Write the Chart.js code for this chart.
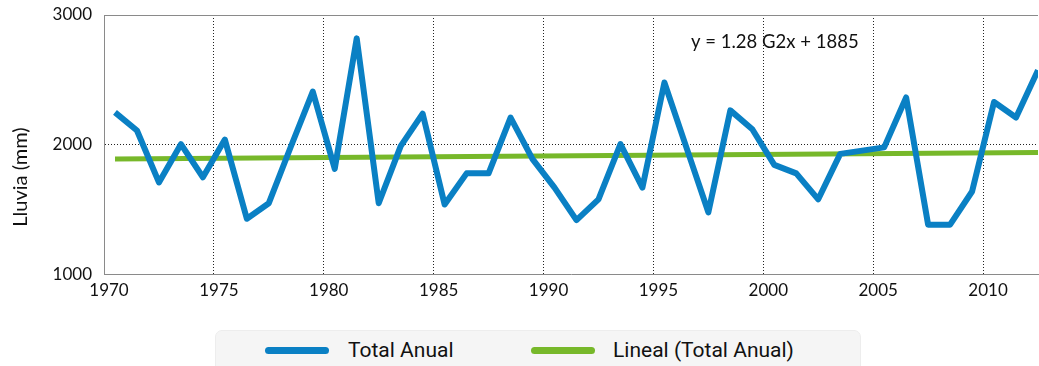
<!DOCTYPE html>
<html>
<head>
<meta charset="utf-8">
<script src="https://cdn.jsdelivr.net/npm/chart.js@4/dist/chart.umd.min.js"></script>
<style>
  html, body { margin: 0; padding: 0; background: #fff; overflow: hidden; }
  #wrap { position: relative; width: 1039px; height: 366px; }
  #legend {
    position: absolute; left: 215px; top: 330px; width: 646px; height: 50px;
    background: #f5f5f5; border: 1px solid #ededed; border-radius: 7px; box-sizing: border-box;
    font-family: Roboto, "Open Sans", sans-serif; font-size: 21px; color: #111;
  }
  .item { position: absolute; top: 5px; height: 28px; line-height: 28px; white-space: nowrap; }
  .swatch { position: absolute; width: 64px; height: 7px; border-radius: 4px; }
</style>
</head>
<body>
<div id="wrap">
  <canvas id="chart" width="1039" height="366"></canvas>
  <div id="legend"></div>
</div>
<script>
// Data
const years = [1970, 1971, 1972, 1973, 1974, 1975, 1976, 1977, 1978, 1979,
               1980, 1981, 1982, 1983, 1984, 1985, 1986, 1987, 1988, 1989,
               1990, 1991, 1992, 1993, 1994, 1995, 1996, 1997, 1998, 1999,
               2000, 2001, 2002, 2003, 2004, 2005, 2006, 2007, 2008, 2009,
               2010, 2011, 2012];
const rainfall = [2250, 2110, 1710, 2005, 1750, 2040, 1430, 1550, 1985, 2410,
                  1815, 2820, 1550, 1990, 2240, 1540, 1780, 1780, 2210, 1890,
                  1670, 1420, 1580, 2005, 1670, 2480, 1980, 1480, 2265, 2120,
                  1845, 1780, 1580, 1930, 1955, 1980, 2365, 1385, 1385, 1640,
                  2330, 2210, 2575];
const trendYears = [1970, 2012];
const trendValues = [1890, 1940];
const xTicks = [1970, 1975, 1980, 1985, 1990, 1995, 2000, 2005, 2010];
const yTicks = [1000, 2000, 3000];
const equation = 'y = 1.28 G2x + 1885';

const blue = '#0a80c4';
const green = '#77b82a';
const tickFont = { family: 'Lato', size: 17 };

// points sit in the middle of each year
const toPoints = (xs, ys) => xs.map((yr, i) => ({ x: yr + 0.5, y: ys[i] }));

// Extra drawing: plot top border, y title, trend equation
const extras = {
  id: 'extras',
  beforeDatasetsDraw(chart) {
    const { ctx, chartArea } = chart;
    ctx.save();
    ctx.strokeStyle = '#8a8a8a';
    ctx.lineWidth = 1;
    ctx.beginPath();
    ctx.moveTo(chartArea.left, chartArea.top + 0.5);
    ctx.lineTo(chartArea.right, chartArea.top + 0.5);
    ctx.stroke();
    ctx.restore();
  },
  afterDraw(chart) {
    const { ctx, chartArea } = chart;
    ctx.save();
    ctx.fillStyle = '#111';
    ctx.font = '20px Lato';
    ctx.textAlign = 'center';
    ctx.textBaseline = 'middle';
    ctx.translate(21, 177);
    ctx.rotate(-Math.PI / 2);
    ctx.fillText('Lluvia (mm)', 0, 0);
    ctx.restore();

    ctx.save();
    ctx.fillStyle = '#111';
    ctx.font = '18.5px Lato';
    ctx.textAlign = 'left';
    ctx.textBaseline = 'middle';
    ctx.fillText(equation, chartArea.left + 587, 42);
    ctx.restore();
  }
};

const chart = new Chart(document.getElementById('chart'), {
  type: 'line',
  data: {
    datasets: [
      {
        label: 'Total Anual',
        data: toPoints(years, rainfall),
        borderColor: blue,
        borderWidth: 6,
        borderJoinStyle: 'round',
        pointRadius: 0,
        tension: 0,
        order: 1
      },
      {
        label: 'Lineal (Total Anual)',
        data: toPoints(trendYears, trendValues),
        borderColor: green,
        borderWidth: 5,
        pointRadius: 0,
        tension: 0,
        order: 2
      }
    ]
  },
  options: {
    responsive: false,
    animation: false,
    layout: { padding: { top: 15, right: 1, bottom: 59, left: 0 } },
    plugins: { legend: { display: false }, tooltip: { enabled: false } },
    scales: {
      x: {
        type: 'linear',
        min: 1970,
        max: 2012.5,
        afterBuildTicks: (scale) => {
          scale.ticks = xTicks.map(v => ({ value: v }));
        },
        ticks: { color: '#111', font: tickFont, padding: 6, labelOffset: 5, maxRotation: 0, callback: (v) => String(v) },
        grid: {
          drawTicks: false,
          color: (c) => c.tick && c.tick.value === 1970 ? 'rgba(0,0,0,0)' : '#222',
          lineWidth: 1
        },
        border: { color: '#8a8a8a', width: 1, dash: [1, 2] }
      },
      y: {
        min: 1000,
        max: 3000,
        afterBuildTicks: (scale) => {
          scale.ticks = yTicks.map(v => ({ value: v }));
        },
        afterFit: (scale) => {
          scale.width = 104;
          scale.paddingTop = 0;
          scale.paddingBottom = 0;
        },
        ticks: { color: '#111', font: tickFont, padding: 12, callback: (v) => String(v) },
        grid: {
          drawTicks: false,
          color: (c) => c.tick && c.tick.value === 2000 ? '#222' : 'rgba(0,0,0,0)',
          lineWidth: 1
        },
        border: { color: '#8a8a8a', width: 1, dash: [1, 2] }
      }
    }
  },
  plugins: [extras]
});

// HTML legend from the dataset labels
const legend = document.getElementById('legend');
const legendPos = [{ swatch: 49, text: 132 }, { swatch: 315, text: 397 }];
chart.data.datasets.forEach((ds, i) => {
  const sw = document.createElement('div');
  sw.className = 'swatch';
  sw.style.left = legendPos[i].swatch + 'px';
  sw.style.top = '16px';
  sw.style.background = ds.borderColor;
  legend.appendChild(sw);
  const tx = document.createElement('div');
  tx.className = 'item';
  tx.style.left = legendPos[i].text + 'px';
  tx.textContent = ds.label;
  legend.appendChild(tx);
});
</script>
</body>
</html>
